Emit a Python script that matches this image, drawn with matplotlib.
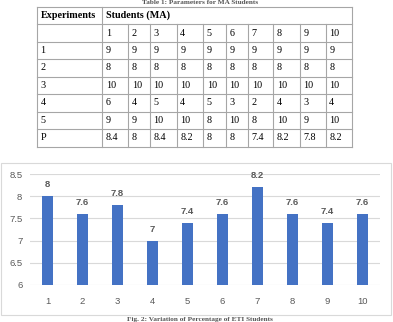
import matplotlib
matplotlib.use("Agg")
import matplotlib.pyplot as plt
from matplotlib.patches import Rectangle

# Table data
header_left = "Experiments"
header_right = "Students (MA)"
student_ids = ["1", "2", "3", "4", "5", "6", "7", "8", "9", "10"]
row_labels = ["1", "2", "3", "4", "5", "P"]
table_rows = [
    ["9", "9", "9", "9", "9", "9", "9", "9", "9", "9"],
    ["8", "8", "8", "8", "8", "8", "8", "8", "8", "8"],
    ["10", "10", "10", "10", "10", "10", "10", "10", "10", "10"],
    ["6", "4", "5", "4", "5", "3", "2", "4", "3", "4"],
    ["9", "9", "10", "10", "8", "10", "8", "10", "9", "10"],
    ["8.4", "8", "8.4", "8.2", "8", "8", "7.4", "8.2", "7.8", "8.2"],
]

# Chart data
students = [1, 2, 3, 4, 5, 6, 7, 8, 9, 10]
scores = [8, 7.6, 7.8, 7, 7.4, 7.6, 8.2, 7.6, 7.4, 7.6]
score_labels = ["8", "7.6", "7.8", "7", "7.4", "7.6", "8.2", "7.6", "7.4", "7.6"]

table_caption = "Table 1: Parameters for MA Students"
fig_caption = "Fig. 2: Variation of Percentage of ETI Students"

W, H = 393, 322
BAR = "#4472C4"
GRID = "#d9d9d9"
TXT = "#595959"
LINE = "#a6a6a6"
SERIF = "Liberation Serif"

fig = plt.figure(figsize=(W / 100, H / 100), dpi=100)
fig.patch.set_facecolor("white")

# overlay axes in pixel coordinates for the table, box and captions
pa = fig.add_axes([0, 0, 1, 1])
pa.set_xlim(0, W)
pa.set_ylim(H, 0)
pa.axis("off")

ys = [6.5, 24.3, 41.7, 59, 76.7, 94, 111.7, 129, 146.7]
xs = [37, 102.3, 128.3, 150, 176.7, 203.3, 225.7, 248.3, 273.3, 300, 325.7, 352]
lw = 0.8

# horizontal lines
for y in ys:
    pa.plot([xs[0], xs[-1]], [y, y], color=LINE, lw=lw)
# vertical lines (header row merged over the student columns)
for i, x in enumerate(xs):
    if i in (0, 1, len(xs) - 1):
        pa.plot([x, x], [ys[0], ys[-1]], color=LINE, lw=lw)
    else:
        pa.plot([x, x], [ys[1], ys[-1]], color=LINE, lw=lw)

fs = 7.3
pa.text(xs[0] + 3.5, (ys[0] + ys[1]) / 2, header_left, family=SERIF,
        fontweight="bold", fontsize=fs, va="center", ha="left")
pa.text(xs[1] + 3.5, (ys[0] + ys[1]) / 2, header_right, family=SERIF,
        fontweight="bold", fontsize=fs, va="center", ha="left")

for j, s in enumerate(student_ids):
    pa.text(xs[j + 1] + 3.5, (ys[1] + ys[2]) / 2, s, family=SERIF,
            fontsize=fs, va="center", ha="left")
for r, (lab, row) in enumerate(zip(row_labels, table_rows)):
    yc = (ys[r + 2] + ys[r + 3]) / 2
    pa.text(xs[0] + 3.5, yc, lab, family=SERIF, fontsize=fs,
            va="center", ha="left")
    for j, v in enumerate(row):
        pa.text(xs[j + 1] + 3.5, yc, v, family=SERIF, fontsize=fs,
                va="center", ha="left")

# captions at the page edges
pa.text(200, 0.3, table_caption, family=SERIF, fontweight="bold",
        fontsize=5.2, va="top", ha="center", color="#555555")
pa.text(200, 321.7, fig_caption, family=SERIF, fontweight="bold",
        fontsize=5.2, va="bottom", ha="center", color="#555555")

# chart border
pa.add_patch(Rectangle((0.5, 163), 390.5, 152, fill=False,
                       edgecolor=GRID, lw=0.8))

# bar chart
ax = fig.add_axes([30 / W, (H - 285) / H, 350 / W, 111 / H])
ax.bar(students, scores, width=0.33, color=BAR, zorder=3)
ax.set_xlim(0.5, 10.5)
ax.set_ylim(6, 8.5)
ax.set_yticks([6, 6.5, 7, 7.5, 8, 8.5])
ax.set_yticklabels(["6", "6.5", "7", "7.5", "8", "8.5"])
ax.set_xticks(students)
ax.yaxis.grid(True, color=GRID, lw=0.8, zorder=0)
for s in ax.spines.values():
    s.set_visible(False)
ax.tick_params(length=0, labelsize=6.8, labelcolor=TXT)
ax.tick_params(axis="x", pad=8.5)
ax.tick_params(axis="y", pad=5.5)
for lab in ax.get_xticklabels() + ax.get_yticklabels():
    lab.set_family("Liberation Sans")

for x, v, t in zip(students, scores, score_labels):
    ax.annotate(t, (x, v), xytext=(0, 5), textcoords="offset points",
                ha="center", va="bottom", fontsize=6.8, color=TXT,
                family="Liberation Sans", fontweight="bold")

fig.savefig("out.png", dpi=100, facecolor="white")
